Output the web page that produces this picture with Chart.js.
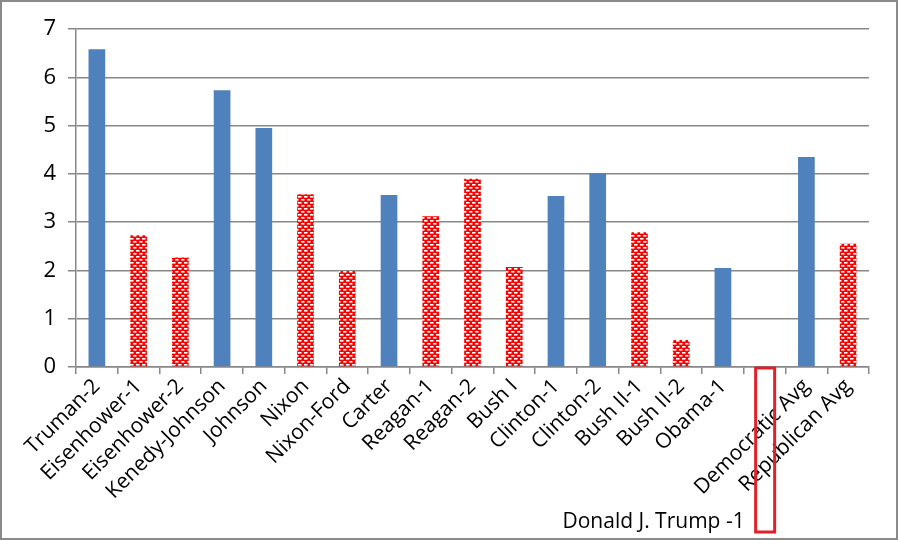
<!DOCTYPE html>
<html>
<head>
<meta charset="utf-8">
<script src="https://cdn.jsdelivr.net/npm/chart.js@4.4.0/dist/chart.umd.min.js"></script>
<style>
  body { margin: 0; background: #fff; }
  #wrap { width: 898px; height: 540px; }
</style>
</head>
<body>
<div id="wrap"><canvas id="myChart"></canvas></div>
<script>
// data
const labels = ['Truman-2', 'Eisenhower-1', 'Eisenhower-2', 'Kenedy-Johnson', 'Johnson', 'Nixon',
  'Nixon-Ford', 'Carter', 'Reagan-1', 'Reagan-2', 'Bush I', 'Clinton-1', 'Clinton-2',
  'Bush II-1', 'Bush II-2', 'Obama-1', '', 'Democratic Avg', 'Republican Avg'];
const values = [6.58, 2.73, 2.27, 5.73, 4.95, 3.58, 1.99, 3.56, 3.12, 3.9, 2.07, 3.54, 4.02,
  2.79, 0.56, 2.05, null, 4.35, 2.55];
const party = ['D', 'R', 'R', 'D', 'D', 'R', 'R', 'D', 'R', 'R', 'R', 'D', 'D', 'R', 'R', 'D', '', 'D', 'R'];
const yTicks = [0, 1, 2, 3, 4, 5, 6, 7];
const trumpIndex = 16;
const trumpText = 'Donald J. Trump -1';

// red bars with little white dashes
let tile = document.createElement('canvas');
tile.width = 6; tile.height = 6;
let tc = tile.getContext('2d');
tc.fillStyle = '#ff0000';
tc.fillRect(0, 0, 6, 6);
tc.fillStyle = '#ffffff';
tc.fillRect(1, 1, 3.5, 1.6);
tc.fillRect(4, 4, 2, 1.6);
tc.fillRect(0, 4, 1.5, 1.6);
let redPattern = tc.createPattern(tile, 'repeat');

const colors = party.map(p => p === 'D' ? '#4f81bd' : redPattern);

const frame = {
  id: 'frame',
  beforeDraw(chart) {
    const c = chart.ctx;
    c.save();
    c.fillStyle = '#fff';
    c.fillRect(0, 0, chart.width, chart.height);
    c.restore();
  },
  afterDraw(chart) {
    const c = chart.ctx;
    const x = chart.scales.x;
    const y = chart.scales.y;
    c.save();
    c.strokeStyle = '#8a8a8a';
    c.lineWidth = 2;
    c.strokeRect(1, 1, chart.width - 2, chart.height - 2);
    // box marking the empty slot
    const cx = x.getPixelForValue(trumpIndex);
    const top = y.getPixelForValue(0) + 1;
    c.strokeStyle = '#e0202a';
    c.lineWidth = 3;
    c.strokeRect(cx - 9, top, 19, 532 - top);
    c.fillStyle = '#000';
    c.font = '21px "Open Sans", sans-serif';
    c.textAlign = 'right';
    c.textBaseline = 'alphabetic';
    c.fillText(trumpText, cx - 20, 528);
    c.restore();
  }
};

let myChart = new Chart(document.getElementById('myChart').getContext('2d'), {
  type: 'bar',
  data: {
    labels: labels,
    datasets: [{
      data: values,
      backgroundColor: colors,
      borderWidth: 0,
      categoryPercentage: 1,
      barPercentage: 0.4
    }]
  },
  plugins: [frame],
  options: {
    responsive: true,
    maintainAspectRatio: false,
    animation: false,
    layout: { padding: { top: 29, right: 29, left: 0, bottom: 0 } },
    plugins: {
      legend: { display: false },
      tooltip: { enabled: false }
    },
    scales: {
      x: {
        afterFit(scale) { scale.height = 173; },
        grid: { drawOnChartArea: false, drawTicks: true, tickLength: 7, color: '#888', lineWidth: 1.5, offset: true },
        border: { color: '#888', width: 1.5 },
        ticks: {
          color: '#000',
          font: { family: '"Open Sans", sans-serif', size: 21 },
          maxRotation: 45,
          minRotation: 45,
          autoSkip: false,
          padding: 0
        }
      },
      y: {
        min: 0,
        max: 7,
        afterFit(scale) { scale.width = 76; },
        afterBuildTicks(scale) { scale.ticks = yTicks.map(v => ({ value: v })); },
        grid: { color: '#888', lineWidth: 1.5, tickLength: 8 },
        border: { color: '#888', width: 1.5 },
        ticks: {
          color: '#000',
          font: { family: '"Open Sans", sans-serif', size: 22 },
          padding: 12
        }
      }
    }
  }
});
</script>
</body>
</html>
